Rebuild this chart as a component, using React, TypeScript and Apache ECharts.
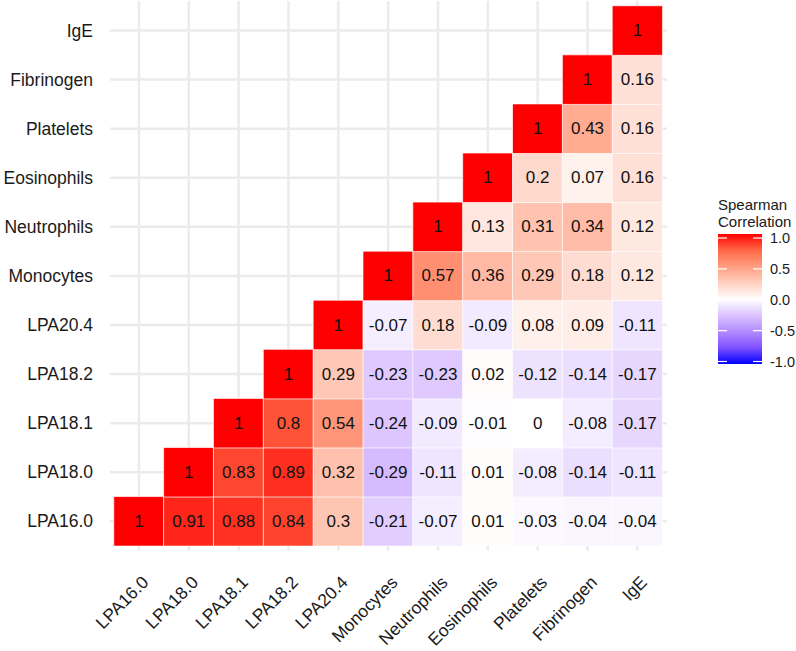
import React, { useEffect, useRef } from "react";
import * as echarts from "echarts";

const variables = [
  "LPA16.0", "LPA18.0", "LPA18.1", "LPA18.2", "LPA20.4",
  "Monocytes", "Neutrophils", "Eosinophils", "Platelets", "Fibrinogen", "IgE",
];

// Each row starts at the diagonal (x index == row index) and runs to IgE.
const rowLPA160 = [1, 0.91, 0.88, 0.84, 0.3, -0.21, -0.07, 0.01, -0.03, -0.04, -0.04];
const rowLPA180 = [1, 0.83, 0.89, 0.32, -0.29, -0.11, 0.01, -0.08, -0.14, -0.11];
const rowLPA181 = [1, 0.8, 0.54, -0.24, -0.09, -0.01, 0, -0.08, -0.17];
const rowLPA182 = [1, 0.29, -0.23, -0.23, 0.02, -0.12, -0.14, -0.17];
const rowLPA204 = [1, -0.07, 0.18, -0.09, 0.08, 0.09, -0.11];
const rowMonocytes = [1, 0.57, 0.36, 0.29, 0.18, 0.12];
const rowNeutrophils = [1, 0.13, 0.31, 0.34, 0.12];
const rowEosinophils = [1, 0.2, 0.07, 0.16];
const rowPlatelets = [1, 0.43, 0.16];
const rowFibrinogen = [1, 0.16];
const rowIgE = [1];

const rows = [
  rowLPA160, rowLPA180, rowLPA181, rowLPA182, rowLPA204,
  rowMonocytes, rowNeutrophils, rowEosinophils, rowPlatelets, rowFibrinogen, rowIgE,
];

const legendTicks = [1, 0.5, 0, -0.5, -1];
const legendTitle = "Spearman\nCorrelation";

// blue -> white -> red, interpolated in Lab (ggplot scale_fill_gradient2)
const scaleColors = [
  "#0000FF", "#7E51FF", "#B38BFF", "#DCC4FF", "#FFFFFF",
  "#FFCFBF", "#FF9E81", "#FF6846", "#FF0000",
];

const FONT = "'Liberation Sans', Arial, Helvetica, sans-serif";

export default function App() {
  const ref = useRef<HTMLDivElement>(null);

  useEffect(() => {
    if (!ref.current) return;
    const chart = echarts.init(ref.current, null, { renderer: "svg" });

    const data: [number, number, number][] = [];
    rows.forEach((row, yi) => {
      row.forEach((v, j) => {
        data.push([yi + j, yi, v]);
      });
    });

    const gridLeft = 114;
    const gridTop = 6;
    const gridW = 548.3;
    const gridH = 547.3;

    const barX = 718;
    const barY = 234;
    const barW = 44;
    const barH = 130;
    const tickTop = 238;
    const tickSpan = 123.5;

    const stops = scaleColors
      .slice()
      .reverse()
      .map((c, i, arr) => ({ offset: i / (arr.length - 1), color: c }));

    const graphics: any[] = [
      {
        type: "text",
        left: barX,
        top: 196,
        style: {
          text: legendTitle,
          font: `15px ${FONT}`,
          fill: "#1a1a1a",
          lineHeight: 17,
        },
      },
      {
        type: "rect",
        shape: { x: barX, y: barY, width: barW, height: barH },
        style: { fill: new echarts.graphic.LinearGradient(0, 0, 0, 1, stops) },
      },
    ];
    legendTicks.forEach((v) => {
      const y = tickTop + ((1 - v) / 2) * tickSpan;
      graphics.push({
        type: "line",
        shape: { x1: barX, y1: y, x2: barX + 9, y2: y },
        style: { stroke: "#ffffff", lineWidth: 1.2 },
      });
      graphics.push({
        type: "line",
        shape: { x1: barX + barW - 9, y1: y, x2: barX + barW, y2: y },
        style: { stroke: "#ffffff", lineWidth: 1.2 },
      });
      graphics.push({
        type: "text",
        x: barX + barW + 8,
        y: y,
        style: {
          text: v.toFixed(1),
          font: `14.5px ${FONT}`,
          fill: "#1a1a1a",
          verticalAlign: "middle",
          align: "left",
        },
      });
    });

    const idx = variables.map((_, i) => [i, 0]);
    const idy = variables.map((_, i) => [0, i]);

    chart.setOption({
      animation: false,
      backgroundColor: "#ffffff",
      grid: { left: gridLeft, top: gridTop, width: gridW, height: gridH, containLabel: false },
      xAxis: {
        type: "category",
        data: variables,
        axisLine: { show: false },
        axisTick: { show: false },
        splitLine: { show: false },
        axisLabel: {
          rotate: 45,
          align: "right",
          verticalAlign: "top",
          margin: 27,
          fontSize: 17.5,
          fontFamily: FONT,
          color: "#1a1a1a",
          interval: 0,
        },
      },
      yAxis: {
        type: "category",
        data: variables,
        axisLine: { show: false },
        axisTick: { show: false },
        splitLine: { show: false },
        axisLabel: {
          margin: 21,
          fontSize: 17.5,
          fontFamily: FONT,
          color: "#1a1a1a",
          interval: 0,
        },
      },
      visualMap: {
        show: false,
        min: -1,
        max: 1,
        dimension: 2,
        seriesIndex: 2,
        inRange: { color: scaleColors },
      },
      graphic: graphics,
      series: [
        {
          type: "custom",
          z: 1,
          silent: true,
          data: idx,
          renderItem: (params: any, api: any) => {
            const x = api.coord([api.value(0), 0])[0];
            const cs = params.coordSys;
            return {
              type: "line",
              shape: { x1: x, y1: cs.y - 5, x2: x, y2: cs.y + cs.height + 4.7 },
              style: { stroke: "#EBEBEB", lineWidth: 2.5 },
            };
          },
        },
        {
          type: "custom",
          z: 1,
          silent: true,
          data: idy,
          renderItem: (params: any, api: any) => {
            const y = api.coord([0, api.value(1)])[1];
            const cs = params.coordSys;
            return {
              type: "line",
              shape: { x1: cs.x - 4, y1: y, x2: cs.x + cs.width + 4.7, y2: y },
              style: { stroke: "#EBEBEB", lineWidth: 2.5 },
            };
          },
        },
        {
          type: "heatmap",
          z: 2,
          data: data,
          itemStyle: { borderColor: "#ffffff", borderWidth: 0.7 },
          label: {
            show: true,
            formatter: (p: any) => String(p.value[2]),
            fontSize: 17,
            fontFamily: FONT,
            color: "#111111",
          },
          emphasis: { disabled: true },
        },
      ],
    });

    return () => chart.dispose();
  }, []);

  return (
    <div
      ref={ref}
      style={{ position: "fixed", left: 0, top: 0, width: 796, height: 651, background: "#fff" }}
    />
  );
}
